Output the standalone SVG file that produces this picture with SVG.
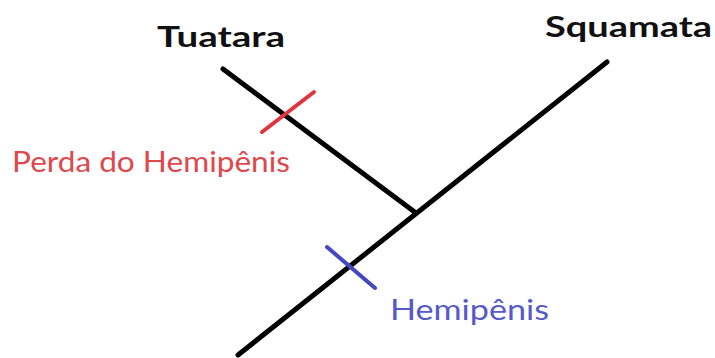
<svg xmlns="http://www.w3.org/2000/svg" width="715" height="358" viewBox="0 0 715 358">
<style>
.b{stroke:#000;stroke-width:5;stroke-linecap:round;fill:none}
.t{font-family:Lato,"Open Sans","Liberation Sans",sans-serif}
.h{font-weight:bold;font-size:28px;fill:#111}
.l{font-size:28px}
</style>
<rect width="715" height="358" fill="#fff"/>
<g id="connectors">
<line class="b" x1="238" y1="355" x2="607" y2="62"/>
<line class="b" x1="223" y1="69" x2="416" y2="213"/>
</g>
<g id="tuatara"><text class="t h" x="157" y="47" textLength="128" lengthAdjust="spacingAndGlyphs">Tuatara</text></g>
<g id="squamata"><text class="t h" x="545" y="37" textLength="167" lengthAdjust="spacingAndGlyphs">Squamata</text></g>
<g id="perda">
<line x1="262" y1="132" x2="314" y2="92" stroke="#e0353b" stroke-width="4" stroke-linecap="round"/>
<text class="t l" x="12" y="172" fill="#e0474c" textLength="278" lengthAdjust="spacingAndGlyphs">Perda do Hemipênis</text>
</g>
<g id="hemipenis">
<line x1="327" y1="247" x2="375" y2="288" stroke="#4448c0" stroke-width="4" stroke-linecap="round"/>
<text class="t l" x="390" y="320" fill="#5559c9" textLength="159" lengthAdjust="spacingAndGlyphs">Hemipênis</text>
</g>
</svg>
